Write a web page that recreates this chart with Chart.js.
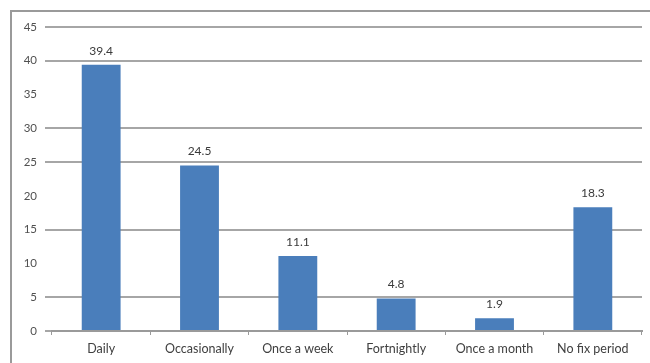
<!DOCTYPE html>
<html>
<head>
<meta charset="utf-8">
<script src="https://cdn.jsdelivr.net/npm/chart.js@4"></script>
<style>
  body { margin: 0; background: #fff; }
  #wrap { position: relative; width: 650px; height: 363px; overflow: hidden; }
  #frame { position: absolute; left: 10px; top: 10px; width: 700px; height: 400px;
           border-left: 2px solid #9a9a9a; border-top: 2px solid #9a9a9a; }
  canvas { position: absolute; left: 0; top: 0; }
</style>
</head>
<body>
<div id="wrap">
  <div id="frame"></div>
  <canvas id="myChart" width="650" height="363"></canvas>
</div>
<script>
const categories = ['Daily', 'Occasionally', 'Once a week', 'Fortnightly', 'Once a month', 'No fix period'];
const percents = [39.4, 24.5, 11.1, 4.8, 1.9, 18.3];
const yTicks = [0, 5, 10, 15, 20, 25, 30, 35, 40, 45];
// these gridlines are not printed
const hiddenLines = [10, 20, 35];

const font = "Lato, 'Open Sans', sans-serif";

function gridColor(c) {
  const t = c.scale.ticks[c.index];
  const v = t ? Number(t.value) : NaN;
  return hiddenLines.indexOf(v) >= 0 ? 'rgba(255,255,255,0)' : '#a6a6a6';
}

// value labels on top of each bar
const barLabels = {
  id: 'barLabels',
  afterDatasetsDraw(chart) {
    const c = chart.ctx;
    const meta = chart.getDatasetMeta(0);
    c.save();
    c.font = '12px ' + font;
    c.fillStyle = '#3a3a3a';
    c.textAlign = 'center';
    c.textBaseline = 'bottom';
    meta.data.forEach(function (bar, i) {
      c.fillText(percents[i].toFixed(1), bar.x, bar.y - 8);
    });
    c.restore();
  }
};

const ctx = document.getElementById('myChart');

new Chart(ctx, {
  type: 'bar',
  data: {
    labels: categories,
    datasets: [{
      data: percents,
      backgroundColor: '#4a7ebb',
      barPercentage: 0.395,
      categoryPercentage: 1
    }]
  },
  options: {
    responsive: false,
    animation: false,
    layout: { padding: { top: 27, right: 8, left: 0, bottom: 0 } },
    plugins: { legend: { display: false }, tooltip: { enabled: false } },
    scales: {
      x: {
        afterFit(scale) { scale.height = 32; },
        grid: {
          offset: true,
          drawOnChartArea: false,
          drawTicks: true,
          tickLength: 4,
          color: '#9a9a9a'
        },
        border: { color: '#9a9a9a', width: 2 },
        ticks: { color: '#404040', font: { family: font, size: 12.5 }, padding: 6 }
      },
      y: {
        min: 0,
        max: 45,
        afterFit(scale) { scale.width = 52; },
        ticks: { stepSize: 5, color: '#505050', font: { family: font, size: 11.5 }, padding: 8 },
        grid: {
          drawTicks: true,
          tickLength: 7,
          lineWidth: 2,
          color: gridColor
        },
        border: { display: false }
      }
    }
  },
  plugins: [barLabels]
});
</script>
</body>
</html>
